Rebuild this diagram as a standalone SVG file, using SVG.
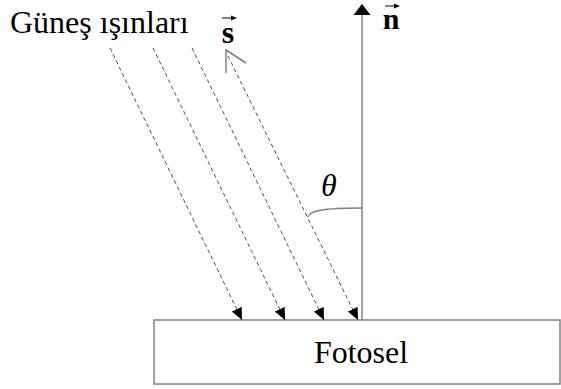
<svg xmlns="http://www.w3.org/2000/svg" width="561" height="389" viewBox="0 0 561 389">
  <style>
    .lbl { font-family: "Liberation Serif", "Times New Roman", serif; fill: #000; }
    .ray { stroke: #505050; stroke-width: 1; stroke-dasharray: 4 3; fill: none; marker-end: url(#ah); }
    .gray { stroke: #808080; stroke-width: 1.5; fill: none; }
    .vec { stroke: #000; stroke-width: 1; fill: none; }
  </style>
  <defs>
    <marker id="ah" markerUnits="userSpaceOnUse" markerWidth="13" markerHeight="11" refX="12" refY="5.5" orient="auto">
      <path d="M0,0 L12,5.5 L0,11 Z" fill="#000"/>
    </marker>
  </defs>
  <rect width="561" height="389" fill="#fff"/>

  <g id="fotosel">
    <rect x="154" y="320" width="406" height="64" class="gray"/>
    <text class="lbl" x="361" y="363" font-size="32" text-anchor="middle">Fotosel</text>
  </g>

  <g id="label-gunes">
    <text class="lbl" x="10" y="33" font-size="32">Güneş ışınları</text>
  </g>

  <g id="label-s">
    <text class="lbl" x="228" y="43" font-size="32" font-weight="bold" text-anchor="middle">s</text>
    <path class="vec" d="M222,18 L235,18"/>
    <path d="M237,18 L231,15.5 L231,20.5 Z" fill="#000"/>
  </g>

  <g id="label-n">
    <text class="lbl" x="391" y="29" font-size="30" font-weight="bold" text-anchor="middle">n</text>
    <path class="vec" d="M385,6 L398,6"/>
    <path d="M400,6 L394,3.5 L394,8.5 Z" fill="#000"/>
  </g>

  <g id="label-theta">
    <text class="lbl" x="321" y="196" font-size="32" font-style="italic">θ</text>
  </g>

  <g id="connectors">
    <line class="ray" x1="110" y1="48" x2="242" y2="320"/>
    <line class="ray" x1="153" y1="48" x2="285" y2="320"/>
    <line class="ray" x1="192" y1="48" x2="324" y2="320"/>
    <line class="ray" x1="228" y1="56" x2="358" y2="320"/>
    <path class="gray" d="M226,73 L226,50 L246,63"/>
    <line class="gray" x1="362" y1="320" x2="362" y2="14"/>
    <path d="M362,4 L353.5,15 L370.5,15 Z" fill="#000"/>
    <path class="gray" stroke-width="1" d="M308,217 C309,211 322,208 362,208"/>
  </g>
</svg>
